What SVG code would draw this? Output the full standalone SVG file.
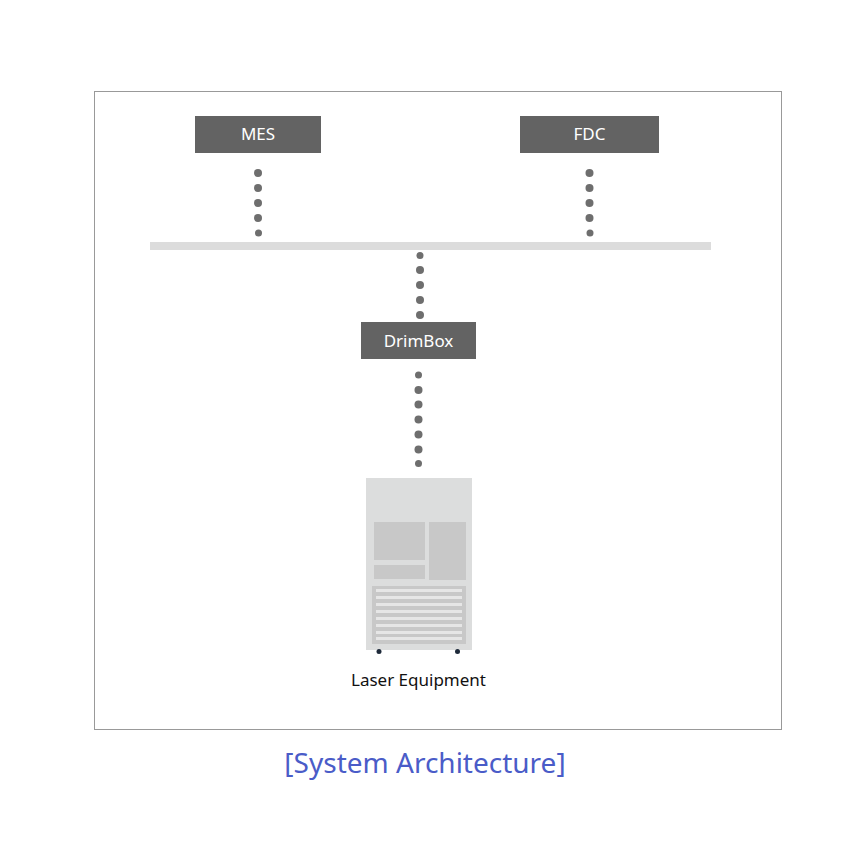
<svg xmlns="http://www.w3.org/2000/svg" width="858" height="860" viewBox="0 0 858 860">
<style>
.box{fill:#636363}
.lbl{font-family:"Noto Sans","Open Sans",sans-serif;font-size:17px;fill:#ffffff;text-anchor:middle}
.dot{fill:#6e6e6e}
.panel{fill:#c8c8c8}
.slat{fill:#e6e6e6}
</style>
<rect x="0" y="0" width="858" height="860" fill="#ffffff"/>
<rect x="94.5" y="91.5" width="687" height="638" fill="none" stroke="#999999" stroke-width="1"/>
<g id="connectors">
<rect id="bus" x="150" y="242" width="561" height="8" fill="#dcdcdc"/>
<g class="dot">
<circle cx="258" cy="173" r="4"/><circle cx="258" cy="188" r="4"/><circle cx="258" cy="203" r="4"/><circle cx="258" cy="218" r="4"/><circle cx="258.5" cy="233" r="3.5"/>
<circle cx="589.5" cy="173" r="4"/><circle cx="589.5" cy="188" r="4"/><circle cx="589.5" cy="203" r="4"/><circle cx="589.5" cy="218" r="4"/><circle cx="590" cy="233" r="3.5"/>
<circle cx="420" cy="255.5" r="3.5"/><circle cx="420" cy="270" r="4"/><circle cx="420" cy="285" r="4"/><circle cx="420" cy="300" r="4"/><circle cx="420" cy="315" r="4"/>
<circle cx="418.5" cy="375" r="3.5"/><circle cx="418.5" cy="390" r="4"/><circle cx="418.5" cy="404.5" r="4"/><circle cx="418.5" cy="419.5" r="4"/><circle cx="418.5" cy="434.5" r="4"/><circle cx="418.5" cy="449.5" r="4"/><circle cx="418.5" cy="463.5" r="3.5"/>
</g>
</g>
<g id="mes">
<rect class="box" x="195" y="116" width="126" height="37"/>
<text class="lbl" x="258" y="140">MES</text>
</g>
<g id="fdc">
<rect class="box" x="520" y="116" width="139" height="37"/>
<text class="lbl" x="589.5" y="140">FDC</text>
</g>
<g id="drimbox">
<rect class="box" x="361" y="322" width="115" height="37"/>
<text class="lbl" x="418.5" y="346.5">DrimBox</text>
</g>
<g id="laser">
<rect x="366" y="478" width="106" height="172" fill="#dcdddd"/>
<rect class="panel" x="374" y="522" width="51" height="38"/>
<rect class="panel" x="374" y="565" width="51" height="14"/>
<rect class="panel" x="429" y="522" width="37" height="58"/>
<rect class="panel" x="372" y="586" width="94" height="58"/>
<rect class="slat" x="376" y="589" width="86" height="3"/>
<rect class="slat" x="376" y="596" width="86" height="3"/>
<rect class="slat" x="376" y="603" width="86" height="3"/>
<rect class="slat" x="376" y="610" width="86" height="3"/>
<rect class="slat" x="376" y="617" width="86" height="3"/>
<rect class="slat" x="376" y="624" width="86" height="3"/>
<rect class="slat" x="376" y="631" width="86" height="3"/>
<rect class="slat" x="376" y="637" width="86" height="3"/>
<circle cx="379" cy="651.5" r="2.5" fill="#1e2a3a"/>
<circle cx="457.5" cy="651.5" r="2.5" fill="#1e2a3a"/>
<text x="418.5" y="686" font-family="Noto Sans, Open Sans, sans-serif" font-size="17" fill="#111111" text-anchor="middle">Laser Equipment</text>
</g>
<text x="425" y="773" font-family="Noto Sans, Open Sans, sans-serif" font-size="28" fill="#4a5cc8" text-anchor="middle">[System Architecture]</text>
</svg>
